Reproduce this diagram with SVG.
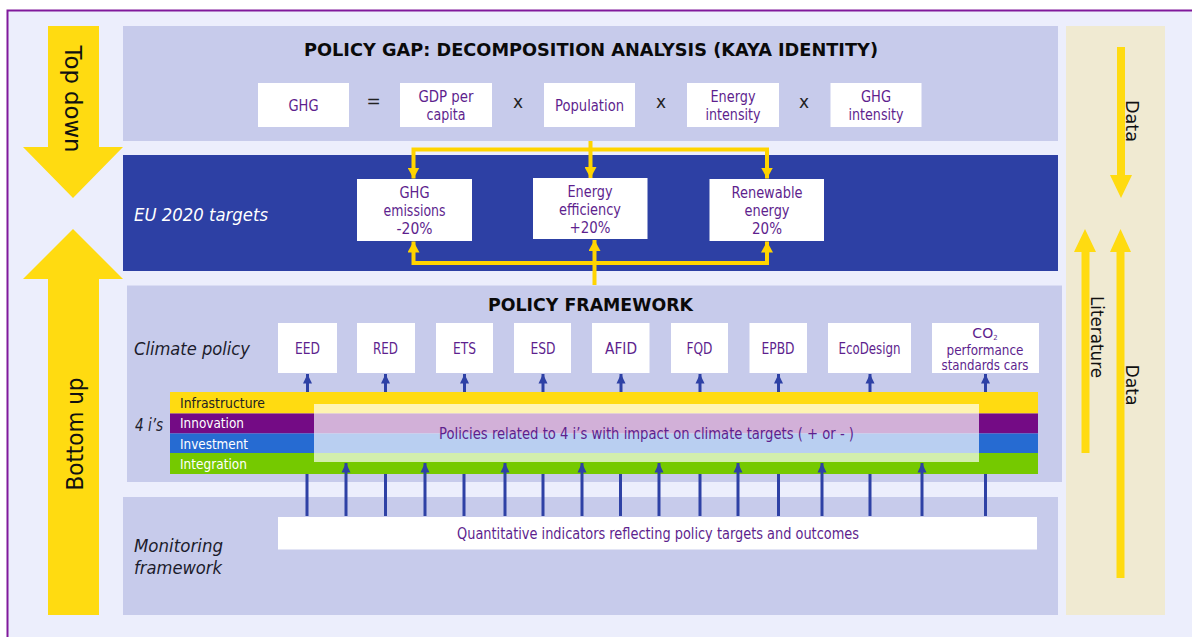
<svg xmlns="http://www.w3.org/2000/svg" width="1192" height="637" viewBox="0 0 1192 637">
<style>
text{font-family:"DejaVu Sans","Liberation Sans",sans-serif;font-size:15px;fill:#5e1f8e;text-anchor:middle}
.h{font-weight:bold;font-size:18px;fill:#0a0a0a}
.i{font-style:italic;font-size:18px;fill:#1c1c2c;text-anchor:start}
.r{font-size:23px;fill:#111}
.s{font-size:18px;fill:#111}
.b{font-size:14px;text-anchor:start}
.op{font-size:17px;fill:#222}
.p{fill:#c7cbeb}
.w{fill:#fff}
.y{fill:#ffdb11}
.yl{fill:none;stroke:#ffd400;stroke-width:4}
.bl{fill:none;stroke:#2e41a5;stroke-width:3}
</style>
<defs>
<marker id="ya" markerUnits="userSpaceOnUse" markerWidth="12" markerHeight="12" refX="11" refY="6" orient="auto"><path d="M0 0L11 6L0 12Z" fill="#ffd400"/></marker>
<marker id="ba" markerUnits="userSpaceOnUse" markerWidth="10" markerHeight="10" refX="9.500" refY="5" orient="auto"><path d="M0 0.500L9.500 5L0 9.500Z" fill="#2e41a5"/></marker>
</defs>
<rect width="1192" height="637" fill="#fff"/>
<rect x="7" y="10.500" width="1185" height="626.500" fill="#eceefc"/>
<path d="M1192 10.500H7.500V637" fill="none" stroke="#80199b" stroke-width="2"/>
<g id="panel-kaya"><rect class="p" x="123" y="26" width="935" height="115"/></g>
<g id="panel-targets"><rect x="123" y="155" width="935" height="116" fill="#2d40a4"/></g>
<g id="panel-framework"><rect class="p" x="127" y="285.500" width="935" height="196.500"/></g>
<g id="panel-monitoring"><rect class="p" x="123" y="497" width="935" height="118"/></g>
<g id="panel-sources"><rect x="1066" y="26" width="99" height="589" fill="#f0ead2"/></g>
<g id="arrow-top-down"><path class="y" d="M48 26H99V147H123L73 198L23 147H48Z"/><text class="r" transform="translate(65 99) rotate(90)" textLength="107" lengthAdjust="spacingAndGlyphs">Top down</text></g>
<g id="arrow-bottom-up"><path class="y" d="M73 229L123 279H99V615H48V279H23Z"/><text class="r" transform="translate(83 434) rotate(-90)" textLength="113" lengthAdjust="spacingAndGlyphs">Bottom up</text></g>
<g id="title-kaya"><text class="h" x="591" y="56" textLength="574" lengthAdjust="spacingAndGlyphs">POLICY GAP: DECOMPOSITION ANALYSIS (KAYA IDENTITY)</text></g>
<g id="connectors">
<path class="yl" marker-end="url(#ya)" d="M590.500 141V178"/>
<path class="yl" marker-end="url(#ya)" d="M590.500 149.500H413.500V178.500"/>
<path class="yl" marker-end="url(#ya)" d="M590.500 149.500H767V178.500"/>
<path class="yl" marker-end="url(#ya)" d="M594.500 285V240"/>
<path class="yl" marker-end="url(#ya)" d="M594.500 263H413.500V241.500"/>
<path class="yl" marker-end="url(#ya)" d="M594.500 263H767V241.500"/>
<g id="small-arrows">
<path class="bl" marker-end="url(#ba)" d="M307.500 392V374"/>
<path class="bl" marker-end="url(#ba)" d="M385.500 392V374"/>
<path class="bl" marker-end="url(#ba)" d="M464.500 392V374"/>
<path class="bl" marker-end="url(#ba)" d="M543 392V374"/>
<path class="bl" marker-end="url(#ba)" d="M621 392V374"/>
<path class="bl" marker-end="url(#ba)" d="M700 392V374"/>
<path class="bl" marker-end="url(#ba)" d="M778.500 392V374"/>
<path class="bl" marker-end="url(#ba)" d="M870 392V374"/>
<path class="bl" marker-end="url(#ba)" d="M985.500 392V374"/>
</g>
</g>
<g id="node-ghg"><rect class="w" x="258" y="83" width="91" height="44"/><text x="303.500" y="111" textLength="30" lengthAdjust="spacingAndGlyphs">GHG</text></g>
<g id="op-eq"><text class="op" x="373.500" y="107">=</text></g>
<g id="node-gdp"><rect class="w" x="400" y="83" width="92" height="44"/><text x="446" y="102" textLength="55" lengthAdjust="spacingAndGlyphs">GDP per</text><text x="446" y="120" textLength="39" lengthAdjust="spacingAndGlyphs">capita</text></g>
<g id="op-x1"><text class="op" x="518" y="108">x</text></g>
<g id="node-pop"><rect class="w" x="544" y="83" width="91" height="44"/><text x="589.500" y="111" textLength="69" lengthAdjust="spacingAndGlyphs">Population</text></g>
<g id="op-x2"><text class="op" x="661" y="108">x</text></g>
<g id="node-energy-int"><rect class="w" x="687" y="83" width="92" height="44"/><text x="733" y="102" textLength="45" lengthAdjust="spacingAndGlyphs">Energy</text><text x="733" y="120" textLength="55" lengthAdjust="spacingAndGlyphs">intensity</text></g>
<g id="op-x3"><text class="op" x="804" y="108">x</text></g>
<g id="node-ghg-int"><rect class="w" x="830.500" y="83" width="91" height="44"/><text x="876" y="102" textLength="30" lengthAdjust="spacingAndGlyphs">GHG</text><text x="876" y="120" textLength="55" lengthAdjust="spacingAndGlyphs">intensity</text></g>
<g id="label-eu"><text class="i" x="134" y="221" style="fill:#fff" textLength="134" lengthAdjust="spacingAndGlyphs">EU 2020 targets</text></g>
<g id="node-t-ghg"><rect class="w" x="357" y="179" width="115" height="62"/><text x="414.500" y="198" textLength="30" lengthAdjust="spacingAndGlyphs">GHG</text><text x="414.500" y="216" textLength="62" lengthAdjust="spacingAndGlyphs">emissions</text><text x="414.500" y="234" textLength="36" lengthAdjust="spacingAndGlyphs">-20%</text></g>
<g id="node-t-eff"><rect class="w" x="533" y="178" width="114.500" height="61"/><text x="590" y="197" textLength="45" lengthAdjust="spacingAndGlyphs">Energy</text><text x="590" y="215" textLength="62" lengthAdjust="spacingAndGlyphs">efficiency</text><text x="590" y="233" textLength="41" lengthAdjust="spacingAndGlyphs">+20%</text></g>
<g id="node-t-ren"><rect class="w" x="709.500" y="179" width="114.500" height="62"/><text x="767" y="198" textLength="71" lengthAdjust="spacingAndGlyphs">Renewable</text><text x="767" y="216" textLength="45" lengthAdjust="spacingAndGlyphs">energy</text><text x="767" y="234" textLength="30" lengthAdjust="spacingAndGlyphs">20%</text></g>
<g id="title-framework"><text class="h" x="590.500" y="311" textLength="205" lengthAdjust="spacingAndGlyphs">POLICY FRAMEWORK</text></g>
<g id="label-climate"><text class="i" x="134" y="355" textLength="116" lengthAdjust="spacingAndGlyphs">Climate policy</text></g>
<g id="node-eed"><rect class="w" x="278" y="323" width="59" height="50"/><text x="307.500" y="354" textLength="25" lengthAdjust="spacingAndGlyphs">EED</text></g>
<g id="node-red"><rect class="w" x="357" y="323" width="58" height="50"/><text x="385.500" y="354" textLength="25" lengthAdjust="spacingAndGlyphs">RED</text></g>
<g id="node-ets"><rect class="w" x="436" y="323" width="57" height="50"/><text x="464.500" y="354" textLength="23" lengthAdjust="spacingAndGlyphs">ETS</text></g>
<g id="node-esd"><rect class="w" x="514" y="323" width="57" height="50"/><text x="543" y="354" textLength="25" lengthAdjust="spacingAndGlyphs">ESD</text></g>
<g id="node-afid"><rect class="w" x="592" y="323" width="57.500" height="50"/><text x="621" y="354" textLength="32" lengthAdjust="spacingAndGlyphs">AFID</text></g>
<g id="node-fqd"><rect class="w" x="671" y="323" width="57" height="50"/><text x="699.500" y="354" textLength="26" lengthAdjust="spacingAndGlyphs">FQD</text></g>
<g id="node-epbd"><rect class="w" x="749.500" y="323" width="57.500" height="50"/><text x="778" y="354" textLength="33" lengthAdjust="spacingAndGlyphs">EPBD</text></g>
<g id="node-ecodesign"><rect class="w" x="828" y="323" width="83" height="50"/><text x="869.500" y="354" textLength="62" lengthAdjust="spacingAndGlyphs">EcoDesign</text></g>
<g id="node-co2"><rect class="w" x="932" y="323" width="107" height="50"/><text x="985" y="338" style="font-size:14px">CO<tspan dy="2" style="font-size:7px">2</tspan></text><text x="985" y="355" style="font-size:13.500px" textLength="77" lengthAdjust="spacingAndGlyphs">performance</text><text x="985" y="370" style="font-size:13.500px" textLength="87" lengthAdjust="spacingAndGlyphs">standards cars</text></g>
<g id="label-4is"><text class="i" x="135" y="431" textLength="28" lengthAdjust="spacingAndGlyphs">4 i’s</text></g>
<g id="bars">
<rect x="170" y="392" width="868" height="21.500" fill="#ffdb11"/>
<rect x="170" y="413.500" width="868" height="20" fill="#740b85"/>
<rect x="170" y="433.500" width="868" height="19.500" fill="#266bd2"/>
<rect x="170" y="453" width="868" height="21" fill="#75c900"/>
<text class="b" x="180" y="408" style="fill:#222" textLength="85" lengthAdjust="spacingAndGlyphs">Infrastructure</text>
<text class="b" x="180" y="428" style="fill:#fff" textLength="64" lengthAdjust="spacingAndGlyphs">Innovation</text>
<text class="b" x="180" y="449" style="fill:#fff" textLength="68" lengthAdjust="spacingAndGlyphs">Investment</text>
<text class="b" x="180" y="469" style="fill:#fff" textLength="67" lengthAdjust="spacingAndGlyphs">Integration</text>
</g>
<g id="long-arrows">
<path class="bl" d="M307 516V474M385.500 516V474M464 516V474M543 516V474M620.500 516V474M700 516V474M778.500 516V474M870 516V474M985.500 516V474"/>
<path class="bl" marker-end="url(#ba)" d="M346 516V463"/>
<path class="bl" marker-end="url(#ba)" d="M425 516V463"/>
<path class="bl" marker-end="url(#ba)" d="M505 516V463"/>
<path class="bl" marker-end="url(#ba)" d="M582 516V463"/>
<path class="bl" marker-end="url(#ba)" d="M659 516V463"/>
<path class="bl" marker-end="url(#ba)" d="M738 516V463"/>
<path class="bl" marker-end="url(#ba)" d="M822 516V463"/>
<path class="bl" marker-end="url(#ba)" d="M922 516V463"/>
</g>
<g id="node-policies"><rect x="314" y="404" width="665" height="58" fill="#fff" fill-opacity=".68"/><text x="646.500" y="439" textLength="415" lengthAdjust="spacingAndGlyphs">Policies related to 4 i’s with impact on climate targets ( + or - )</text></g>
<g id="node-indicators"><rect class="w" x="278" y="517" width="759" height="32.500"/><text x="658" y="539" textLength="402" lengthAdjust="spacingAndGlyphs">Quantitative indicators reflecting policy targets and outcomes</text></g>
<g id="label-monitoring"><text class="i" x="134" y="552" textLength="89" lengthAdjust="spacingAndGlyphs">Monitoring</text><text class="i" x="134" y="574" textLength="88" lengthAdjust="spacingAndGlyphs">framework</text></g>
<g id="source-arrows">
<path class="y" d="M1117 47H1125V175H1132L1121 198L1110 175H1117Z"/>
<path class="y" d="M1081.500 453V252H1074L1085 229L1096 252H1089.500V453Z"/>
<path class="y" d="M1116.500 578V252H1110L1120.500 229L1131 252H1124.500V578Z"/>
<text class="s" transform="translate(1125.500 121) rotate(90)" textLength="42" lengthAdjust="spacingAndGlyphs">Data</text>
<text class="s" transform="translate(1091 337) rotate(90)" textLength="82" lengthAdjust="spacingAndGlyphs">Literature</text>
<text class="s" transform="translate(1126 385) rotate(90)" textLength="41" lengthAdjust="spacingAndGlyphs">Data</text>
</g>
</svg>
